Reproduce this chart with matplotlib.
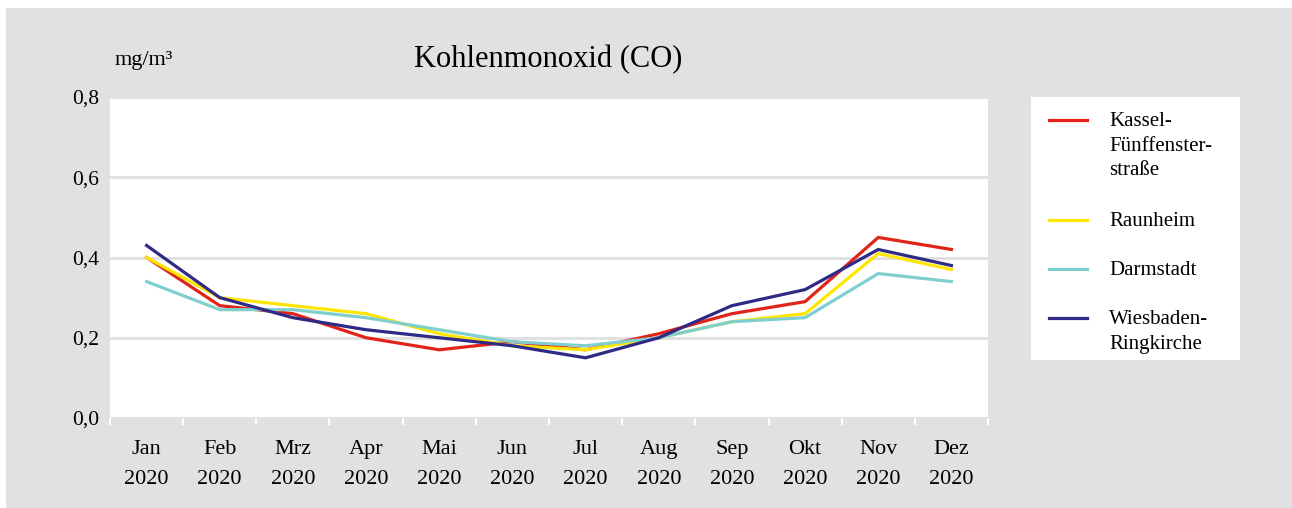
import matplotlib
matplotlib.use("Agg")
import matplotlib.pyplot as plt
import numpy as np
from matplotlib.patches import Rectangle

months = ["Jan", "Feb", "Mrz", "Apr", "Mai", "Jun", "Jul", "Aug", "Sep", "Okt", "Nov", "Dez"]
year = "2020"
kassel = [0.40, 0.28, 0.26, 0.20, 0.17, 0.19, 0.17, 0.21, 0.26, 0.29, 0.45, 0.42]
raunheim = [0.40, 0.30, 0.28, 0.26, 0.21, 0.18, 0.17, 0.20, 0.24, 0.26, 0.41, 0.37]
darmstadt = [0.34, 0.27, 0.27, 0.25, 0.22, 0.19, 0.18, 0.20, 0.24, 0.25, 0.36, 0.34]
wiesbaden = [0.43, 0.30, 0.25, 0.22, 0.20, 0.18, 0.15, 0.20, 0.28, 0.32, 0.42, 0.38]
series_names = ["Kassel-\nFünffenster-\nstraße", "Raunheim", "Darmstadt", "Wiesbaden-\nRingkirche"]
series_colors = ["#e2231a", "#ffe600", "#80cfcf", "#2e2a85"]
yticks = [0.0, 0.2, 0.4, 0.6, 0.8]
title = "Kohlenmonoxid (CO)"
unit = "mg/m³"

plt.rcParams["font.family"] = ["Liberation Serif", "DejaVu Serif"]
BG = "#e1e1e1"
W, H = 1292, 508
fig = plt.figure(figsize=(W / 100, H / 100), dpi=100)
fig.patch.set_facecolor("white")
fig.patches.append(Rectangle((6 / W, 0), 1 - 6 / W, 1 - 8 / H, transform=fig.transFigure,
                             facecolor=BG, edgecolor="none", zorder=-10))

ax = fig.add_axes([110 / W, 1 - 418 / H, (988 - 110) / W, (418 - 97) / H])
ax.set_facecolor("white")
x = np.arange(len(months))
data = [kassel, raunheim, darmstadt, wiesbaden]
for vals, col in zip(data, series_colors):
    ax.plot(x, vals, color=col, lw=2.3, solid_joinstyle="miter", zorder=3)

ax.set_xlim(-0.5, len(months) - 0.5)
ax.set_ylim(0, 0.8)
ax.set_yticks(yticks)
ax.set_yticklabels([f"{v:.1f}".replace(".", ",") for v in yticks])
ax.yaxis.grid(True, color="#e1e1e1", lw=2.2)
ax.set_axisbelow(True)
ax.tick_params(axis="y", length=0, pad=8, labelsize=15.5)
for s in ax.spines.values():
    s.set_visible(False)

ax.set_xticks(np.arange(-0.5, len(months), 1.0))
ax.set_xticklabels([])
ax.set_xticks(x, minor=True)
ax.set_xticklabels([f"{m}\n{year}" for m in months], minor=True, linespacing=1.8)
ax.tick_params(axis="x", which="major", length=5, width=1.5, color="white", direction="out")
ax.tick_params(axis="x", which="minor", length=0, pad=16, labelsize=16)

fig.text(115 / W, 1 - 61 / H, unit, fontsize=16, va="center", ha="left")
fig.text(548 / W, 1 - 60 / H, title, fontsize=22, va="center", ha="center")

# legend box
lax = fig.add_axes([1031 / W, 1 - 360 / H, (1240 - 1031) / W, (360 - 97) / H])
lax.set_facecolor("white")
lax.set_xlim(0, 209)
lax.set_ylim(263, 0)
lax.set_xticks([])
lax.set_yticks([])
for s in lax.spines.values():
    s.set_visible(False)
label_y = [23, 123, 172, 221]
for name, col, yy in zip(series_names, series_colors, label_y):
    lax.plot([18, 56], [yy, yy], color=col, lw=2.3)
    lax.text(78, yy - 8, name, fontsize=15, va="top", ha="left", linespacing=1.4)

fig.savefig("out.png", dpi=100, facecolor=fig.get_facecolor())
